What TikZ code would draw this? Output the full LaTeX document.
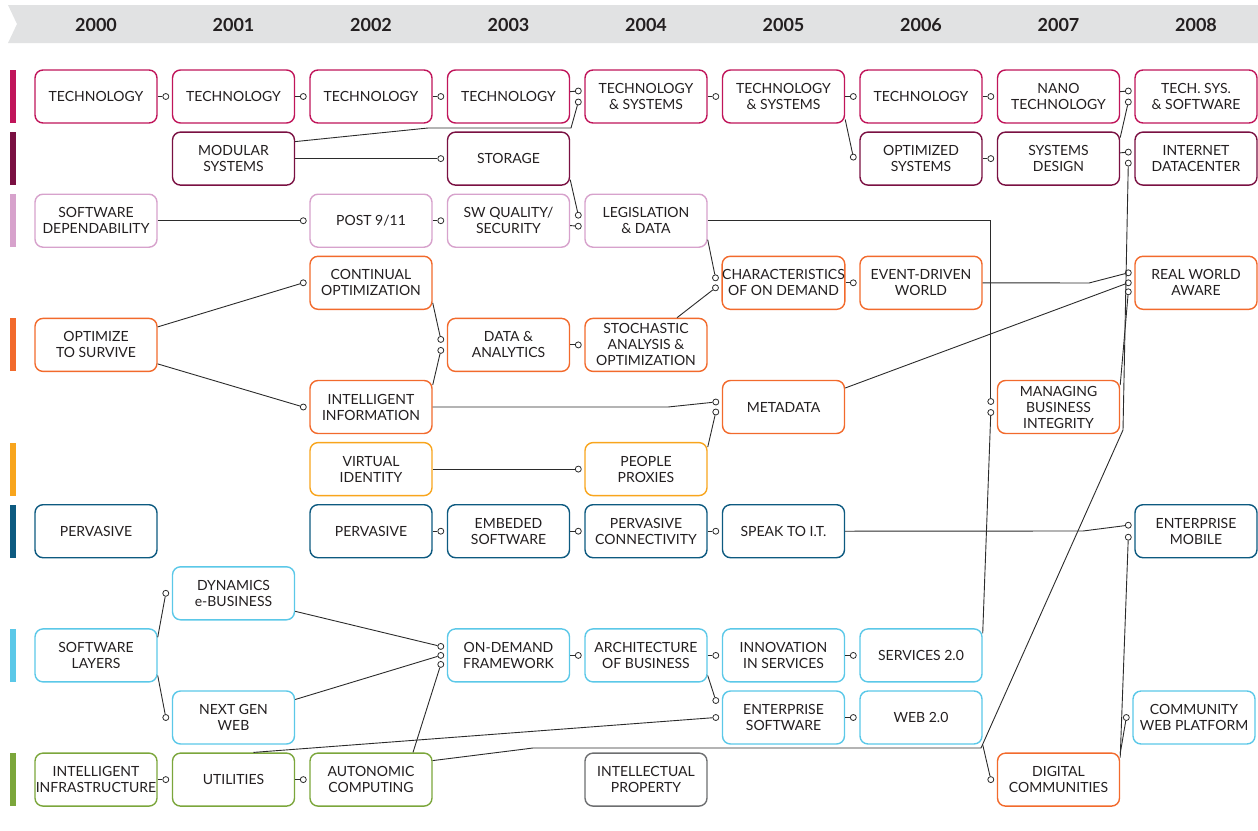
\documentclass[tikz,border=0pt]{standalone}
\usepackage{fontspec}
\setmainfont{Lato}
\usetikzlibrary{calc}

\definecolor{techred}{HTML}{C0155A}
\definecolor{sysred}{HTML}{7A1042}
\definecolor{swpink}{HTML}{D7A2CC}
\definecolor{optorange}{HTML}{F26A2C}
\definecolor{idamber}{HTML}{F8A51D}
\definecolor{pervblue}{HTML}{0D5A80}
\definecolor{webblue}{HTML}{5BC8E8}
\definecolor{infragreen}{HTML}{7BA63B}
\definecolor{ipgray}{HTML}{6D6E70}
\definecolor{headgray}{HTML}{E1E2E3}
\definecolor{ink}{HTML}{231F20}
\definecolor{wire}{HTML}{2B2B2B}

\begin{document}
\begin{tikzpicture}
	[x=1pt,y=-1pt,
	box/.style={draw,rounded corners=8pt,line width=1.4pt,fill=white,minimum width=122pt,
		minimum height=53pt,inner sep=0pt,align=center,text=ink,font=\fontsize{14}{16}\selectfont},
	techbox/.style={box,draw=techred},
	sysbox/.style={box,draw=sysred},
	swbox/.style={box,draw=swpink},
	optbox/.style={box,draw=optorange},
	idbox/.style={box,draw=idamber},
	pervbox/.style={box,draw=pervblue},
	webbox/.style={box,draw=webblue},
	infrabox/.style={box,draw=infragreen},
	ipbox/.style={box,draw=ipgray},
	year/.style={text=ink,font=\bfseries\fontsize{18}{20}\selectfont},
	port/.style={circle,draw=wire,fill=white,line width=0.8pt,inner sep=0pt,minimum size=6pt},
	link/.style={draw=wire,line width=0.9pt}]
	\useasboundingbox (0,0) rectangle (1258,830);
	
	% header band and years
	\fill[headgray] (8,5) -- (1258,5) -- (1258,43) -- (8,43) -- (17,24) -- cycle;
	\foreach \yr [count=\i from 0] in {2000,2001,2002,2003,2004,2005,2006,2007,2008}
	\node[year] (y\yr) at ({96+137.5*\i},24.5) {\yr};
	
	% colour bars
	\foreach \r/\c in {0/techred,1/sysred,2/swpink,4/optorange,6/idamber,7/pervblue,9/webblue,11/infragreen}
	\fill[\c] (10,{96.5+62.1*\r-26.5}) rectangle (16,{96.5+62.1*\r+26.5});
	
	% technology
	\node[techbox] (tech00) at (96,96.5) {TECHNOLOGY};
	\node[techbox] (tech01) at (233.5,96.5) {TECHNOLOGY};
	\node[techbox] (tech02) at (371,96.5) {TECHNOLOGY};
	\node[techbox] (tech03) at (508.5,96.5) {TECHNOLOGY};
	\node[techbox] (techsys04) at (646,96.5) {TECHNOLOGY\\\& SYSTEMS};
	\node[techbox] (techsys05) at (783.5,96.5) {TECHNOLOGY\\\& SYSTEMS};
	\node[techbox] (tech06) at (921,96.5) {TECHNOLOGY};
	\node[techbox] (nano07) at (1058.5,96.5) {NANO\\TECHNOLOGY};
	\node[techbox] (techsw08) at (1196,96.5) {TECH. SYS.\\\& SOFTWARE};
	
	% systems
	\node[sysbox] (modsys01) at (233.5,158.6) {MODULAR\\SYSTEMS};
	\node[sysbox] (storage03) at (508.5,158.6) {STORAGE};
	\node[sysbox] (optsys06) at (921,158.6) {OPTIMIZED\\SYSTEMS};
	\node[sysbox] (sysdes07) at (1058.5,158.6) {SYSTEMS\\DESIGN};
	\node[sysbox] (idc08) at (1196,158.6) {INTERNET\\DATACENTER};
	
	% software dependability
	\node[swbox] (swdep00) at (96,220.7) {SOFTWARE\\DEPENDABILITY};
	\node[swbox] (post02) at (371,220.7) {POST 9/11};
	\node[swbox] (swqual03) at (508.5,220.7) {SW QUALITY/\\SECURITY};
	\node[swbox] (legis04) at (646,220.7) {LEGISLATION\\\& DATA};
	
	% optimization
	\node[optbox] (contopt02) at (371,282.8) {CONTINUAL\\OPTIMIZATION};
	\node[optbox] (charod05) at (783.5,282.8) {CHARACTERISTICS\\OF ON DEMAND};
	\node[optbox] (evdriven06) at (921,282.8) {EVENT-DRIVEN\\WORLD};
	\node[optbox] (rwaware08) at (1196,282.8) {REAL WORLD\\AWARE};
	\node[optbox] (optsurv00) at (96,344.9) {OPTIMIZE\\TO SURVIVE};
	\node[optbox] (datana03) at (508.5,344.9) {DATA \&\\ANALYTICS};
	\node[optbox] (stoch04) at (646,344.9) {STOCHASTIC\\ANALYSIS \&\\OPTIMIZATION};
	\node[optbox] (intinfo02) at (371,407) {INTELLIGENT\\INFORMATION};
	\node[optbox] (metadata05) at (783.5,407) {METADATA};
	\node[optbox] (mbi07) at (1058.5,407) {MANAGING\\BUSINESS\\INTEGRITY};
	
	% identity
	\node[idbox] (virtid02) at (371,469.1) {VIRTUAL\\IDENTITY};
	\node[idbox] (proxies04) at (646,469.1) {PEOPLE\\PROXIES};
	
	% pervasive
	\node[pervbox] (perv00) at (96,531.2) {PERVASIVE};
	\node[pervbox] (perv02) at (371,531.2) {PERVASIVE};
	\node[pervbox] (embsw03) at (508.5,531.2) {EMBEDED\\SOFTWARE};
	\node[pervbox] (pervconn04) at (646,531.2) {PERVASIVE\\CONNECTIVITY};
	\node[pervbox] (speakit05) at (783.5,531.2) {SPEAK TO I.T.};
	\node[pervbox] (entmob08) at (1196,531.2) {ENTERPRISE\\MOBILE};
	
	% software layers
	\node[webbox] (dynebiz01) at (233.5,593.3) {DYNAMICS\\e-BUSINESS};
	\node[webbox] (swlayers00) at (96,655.4) {SOFTWARE\\LAYERS};
	\node[webbox] (odframe03) at (508.5,655.4) {ON-DEMAND\\FRAMEWORK};
	\node[webbox] (archbiz04) at (646,655.4) {ARCHITECTURE\\OF BUSINESS};
	\node[webbox] (innovserv05) at (783.5,655.4) {INNOVATION\\IN SERVICES};
	\node[webbox] (serv06) at (921,655.4) {SERVICES 2.0};
	\node[webbox] (nextweb01) at (233.5,717.5) {NEXT GEN\\WEB};
	\node[webbox] (entsw05) at (783.5,717.5) {ENTERPRISE\\SOFTWARE};
	\node[webbox] (web06) at (921,717.5) {WEB 2.0};
	\node[webbox] (commweb08) at (1194,717.5) {COMMUNITY\\WEB PLATFORM};
	
	% infrastructure
	\node[infrabox] (intinfra00) at (96,779.6) {INTELLIGENT\\INFRASTRUCTURE};
	\node[infrabox] (utilities01) at (233.5,779.6) {UTILITIES};
	\node[infrabox] (autocomp02) at (371,779.6) {AUTONOMIC\\COMPUTING};
	\node[ipbox] (intprop04) at (646,779.6) {INTELLECTUAL\\PROPERTY};
	\node[optbox] (digcomm07) at (1058.5,779.6) {DIGITAL\\COMMUNITIES};
	
	% input ports
	\foreach \n/\t/\dy in {tech01-in/tech01/0,tech02-in/tech02/0,tech03-in/tech03/0,
		techsys04-a/techsys04/-5.5,techsys04-b/techsys04/5.5,techsys05-in/techsys05/0,
		tech06-in/tech06/0,optsys06-in/optsys06/-1.5,nano07-in/nano07/0,sysdes07-in/sysdes07/0,
		techsw08-a/techsw08/-5.5,techsw08-b/techsw08/5.5,idc08-a/idc08/-6.5,idc08-b/idc08/4.5,
		storage03-in/storage03/0,post02-in/post02/0,swqual03-in/swqual03/0,
		legis04-a/legis04/-5.5,legis04-b/legis04/5.5,contopt02-in/contopt02/0,
		charod05-a/charod05/-5,charod05-b/charod05/5,evdriven06-in/evdriven06/0,
		rwaware08-a/rwaware08/-10,rwaware08-b/rwaware08/0,rwaware08-c/rwaware08/9,
		datana03-a/datana03/-5.5,datana03-b/datana03/5.5,stoch04-in/stoch04/0,
		intinfo02-in/intinfo02/0,metadata05-a/metadata05/-5,metadata05-b/metadata05/5,
		mbi07-a/mbi07/-5.5,mbi07-b/mbi07/5.5,proxies04-in/proxies04/0,
		embsw03-in/embsw03/0,pervconn04-in/pervconn04/0,speakit05-in/speakit05/0,
		entmob08-a/entmob08/-6,entmob08-b/entmob08/6,dynebiz01-in/dynebiz01/0,
		nextweb01-in/nextweb01/0,odframe03-a/odframe03/-9,odframe03-b/odframe03/0,
		odframe03-c/odframe03/9,archbiz04-in/archbiz04/0,innovserv05-in/innovserv05/0,
		serv06-in/serv06/0,entsw05-a/entsw05/-17,entsw05-b/entsw05/0,web06-in/web06/0,
		commweb08-in/commweb08/0,utilities01-in/utilities01/0,autocomp02-in/autocomp02/0,
		digcomm07-in/digcomm07/0}
	\node[port] (\n) at ($(\t.west)+(-6,\dy)$) {};
	
	% straight links
	\foreach \from/\to in {tech00/tech01-in,tech01/tech02-in,tech02/tech03-in,tech03/techsys04-a,
		techsys04/techsys05-in,techsys05/tech06-in,tech06/nano07-in,nano07/techsw08-a,
		optsys06/sysdes07-in,sysdes07/idc08-a,modsys01/storage03-in,swdep00/post02-in,
		post02/swqual03-in,swqual03/legis04-b,charod05/evdriven06-in,datana03/stoch04-in,
		virtid02/proxies04-in,perv02/embsw03-in,embsw03/pervconn04-in,pervconn04/speakit05-in,
		odframe03/archbiz04-in,archbiz04/innovserv05-in,innovserv05/serv06-in,entsw05/web06-in,
		intinfra00/utilities01-in,utilities01/autocomp02-in}
	\draw[link] (\from) -- (\to);
	
	% links leaving from box edges
	\draw[link] ($(modsys01.east)+(0,-17)$) -- (428,128) -- (571,128) -- (techsys04-b);
	\draw[link] ($(storage03.east)+(0,21)$) -- (legis04-a);
	\draw[link] ($(techsys05.east)+(0,23)$) -- (optsys06-in);
	\draw[link] ($(sysdes07.east)+(0,-21)$) -- (techsw08-b);
	\draw[link] ($(autocomp02.east)+(0,-19)$) -- (533,748) -- (981,748) -- (1123,430) -- (idc08-b);
	\draw[link] (legis04.east) -| (mbi07-a);
	\draw[link] ($(legis04.east)+(0,19)$) -- (charod05-a);
	\draw[link] ($(stoch04.north)+(31,0)$) -- (charod05-b);
	\draw[link] ($(serv06.east)+(0,-22)$) -- (mbi07-b);
	\draw[link] ($(mbi07.east)+(0,-22)$) -- (rwaware08-c);
	\draw[link] (evdriven06.east) -- (1089,283) -- (rwaware08-a);
	\draw[link] ($(metadata05.east)+(0,-19)$) -- (rwaware08-b);
	\draw[link] ($(contopt02.east)+(0,20)$) -- (datana03-a);
	\draw[link] ($(intinfo02.east)+(0,-22)$) -- (datana03-b);
	\draw[link] ($(optsurv00.east)+(0,-18)$) -- (contopt02-in);
	\draw[link] ($(optsurv00.east)+(0,19)$) -- (intinfo02-in);
	\draw[link] (intinfo02.east) -- (668,407) -- (metadata05-a);
	\draw[link] ($(proxies04.east)+(0,-22)$) -- (metadata05-b);
	\draw[link] (speakit05.east) -- (1083,531) -- (entmob08-a);
	\draw[link] ($(digcomm07.east)+(0,-22)$) -- (entmob08-b);
	\draw[link] ($(digcomm07.east)+(0,-26)$) -- (commweb08-in);
	\draw[link] ($(swlayers00.east)+(0,-18)$) -- (dynebiz01-in);
	\draw[link] ($(swlayers00.east)+(0,20)$) -- (nextweb01-in);
	\draw[link] ($(dynebiz01.east)+(0,18)$) -- (odframe03-a);
	\draw[link] ($(nextweb01.east)+(0,-18)$) -- (odframe03-b);
	\draw[link] ($(autocomp02.north)+(42,0)$) -- (odframe03-c);
	\draw[link] ($(archbiz04.east)+(0,20)$) -- (entsw05-a);
	\draw[link] ($(utilities01.north)+(20,0)$) -- (entsw05-b);
	\draw[link] (web06.south east) -- (digcomm07-in);
\end{tikzpicture}
\end{document}
